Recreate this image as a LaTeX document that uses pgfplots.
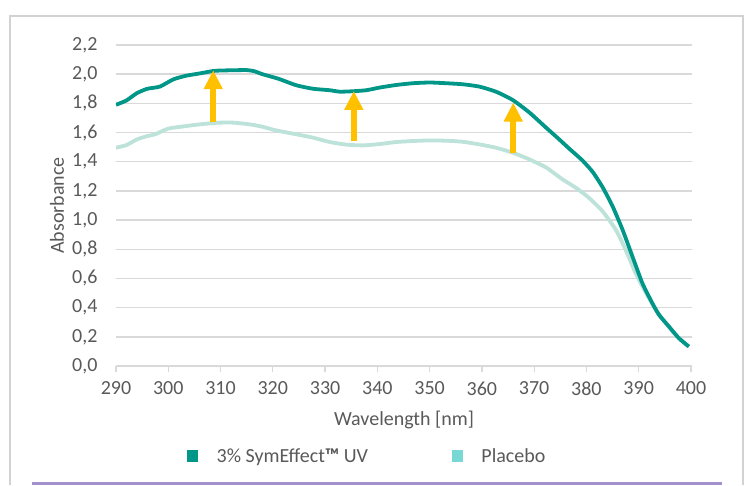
\documentclass[border=0pt]{standalone}
\usepackage{pgfplots}
\pgfplotsset{compat=1.18}
\usepackage{fontspec}
\setmainfont{Carlito}
\usetikzlibrary{arrows.meta}
\definecolor{dark}{RGB}{0,150,136}
\definecolor{light}{RGB}{188,226,218}
\definecolor{legl}{RGB}{122,216,212}
\definecolor{txt}{RGB}{89,89,89}
\definecolor{gridc}{RGB}{217,217,217}
\definecolor{gold}{RGB}{255,192,0}
\definecolor{purp}{RGB}{163,144,204}
\definecolor{frame}{RGB}{210,210,210}

\pgfplotstableread{
x y
290 1.79
292 1.82
294 1.87
296 1.90
298.4 1.915
301 1.965
303.5 1.99
306 2.005
308.6 2.022
310 2.025
312.4 2.027
315 2.028
316.5 2.02
318 2.00
320 1.98
321.3 1.966
324.5 1.924
327.7 1.90
330.9 1.89
332.8 1.88
335.3 1.883
337.9 1.89
340.4 1.908
343.6 1.926
346.8 1.938
350 1.943
353.2 1.938
356.3 1.931
359.5 1.915
362.7 1.88
365.9 1.823
369.1 1.737
372.3 1.633
374.8 1.553
376.7 1.49
379.2 1.41
381.2 1.33
383.1 1.225
385 1.095
386.9 0.935
388.8 0.751
390.7 0.568
392.6 0.431
393.9 0.35
395.8 0.27
397.7 0.19
399.6 0.133
}\symeffect

\pgfplotstableread{
x y
290 1.496
292 1.514
294 1.553
296 1.576
297.5 1.588
300 1.627
303.5 1.645
306 1.656
308.6 1.665
310 1.668
312.4 1.668
315.6 1.656
318 1.64
320 1.62
321.3 1.61
324.5 1.588
327.7 1.565
330.9 1.535
334.1 1.517
337.3 1.512
340.4 1.521
343.6 1.535
346.8 1.542
350 1.546
353.2 1.544
356.3 1.537
359.5 1.519
362.7 1.496
365.9 1.462
369.1 1.416
372.3 1.36
375.4 1.28
378 1.221
380.5 1.152
383.1 1.06
385.6 0.935
387.5 0.797
389.4 0.637
391.4 0.50
393.3 0.385
395.2 0.293
397.1 0.213
399.6 0.133
}\placebo

\begin{document}
\begin{tikzpicture}
\path (-116bp,-119bp) rectangle (631bp,366bp);
\begin{axis}[
  scale only axis, width=576bp, height=321bp,
  xmin=290, xmax=400.2, ymin=0, ymax=2.2,
  axis x line*=bottom, axis y line*=left,
  x axis line style={draw=gridc, line width=1.3bp, -},
  y axis line style={draw=none},
  xtick={290,300,310,320,330,340,350,360,370,380,390,400},
  ytick={0,0.2,0.4,0.6,0.8,1.0,1.2,1.4,1.6,1.8,2.0,2.2},
  xtick style={draw=gridc, line width=1.3bp},
  ytick style={draw=none},
  tick align=outside, major tick length=6bp,
  ymajorgrids, grid style={draw=gridc, line width=1.5bp},
  tick label style={font=\fontsize{20bp}{24bp}\selectfont, text=txt},
  /pgf/number format/assume math mode=true,
  yticklabel style={xshift=-9bp, /pgf/number format/.cd, fixed, fixed zerofill, precision=1, use comma},
  xticklabel style={yshift=-6bp, /pgf/number format/.cd, 1000 sep={}},
  xlabel={Wavelength [nm]},
  ylabel={Absorbance},
  every axis x label/.style={at={(axis description cs:0.5,-0.1838)}, anchor=base,
    font=\fontsize{20bp}{24bp}\selectfont, text=txt},
  every axis y label/.style={at={(axis description cs:-0.1024,0.5)}, anchor=center, rotate=90,
    font=\fontsize{20bp}{24bp}\selectfont, text=txt},
  legend columns=2,
  legend cell align=left,
  legend style={at={(axis description cs:0.1233,-0.28)}, anchor=west, draw=none, fill=none,
    inner sep=0pt, font=\fontsize{20bp}{24bp}\selectfont, text=txt,
    /tikz/every odd column/.append style={column sep=17bp},
    /tikz/every even column/.append style={column sep=82bp}},
]
\addplot[light, line width=3.8bp, line join=round, smooth, tension=0.35, forget plot] table {\placebo};
\addplot[dark, line width=3.8bp, line join=round, smooth, tension=0.35, forget plot] table {\symeffect};
\addplot[gold, line width=6bp, -{Triangle[width=18bp,length=19bp]}, forget plot] coordinates {(308.6,1.67) (308.6,2.027)};
\addplot[gold, line width=6bp, -{Triangle[width=18bp,length=19bp]}, forget plot] coordinates {(335.5,1.54) (335.5,1.885)};
\addplot[gold, line width=6bp, -{Triangle[width=18bp,length=19bp]}, forget plot] coordinates {(366.0,1.462) (366.0,1.805)};
\addlegendimage{legend image code/.code={\fill[dark] (0bp,-5.5bp) rectangle (10bp,5.5bp);}}
\addlegendentry{3\% SymEffect{\bfseries ™} UV}
\addlegendimage{legend image code/.code={\fill[legl] (0bp,-5.5bp) rectangle (10bp,5.5bp);}}
\addlegendentry{Placebo}
\end{axis}
\draw[frame, line width=2bp] (-106bp,-119bp) -- (-106bp,350bp) -- (627bp,350bp) -- (627bp,-119bp);
\draw[purp, line width=2.5bp] (-84bp,-117.5bp) -- (606bp,-117.5bp);
\end{tikzpicture}
\end{document}
